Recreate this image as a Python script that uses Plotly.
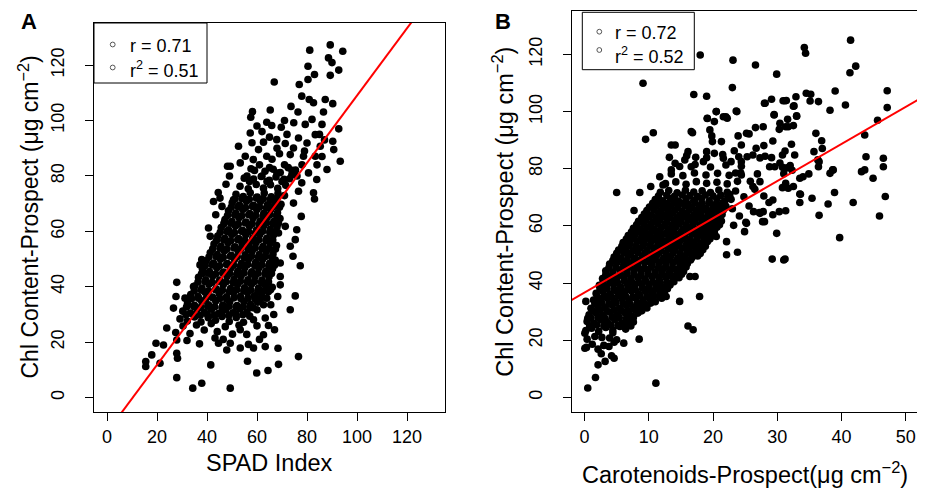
import plotly.graph_objects as go

W, H = 925, 488
OFF = 8  # the page body adds an 8 px margin around the figure

# ---------------- Panel A : SPAD index vs Chl content ----------------
spad_edge = [
    89.3, 81.1, 94.3, 88.6, 90.0, 80.4, 92.7, 83.0, 80.4, 89.3,
    66.9, 76.9, 77.9, 80.9, 82.6, 87.3, 90.3, 65.3, 58.2, 57.5,
    73.6, 76.4, 86.6, 63.9, 65.9, 74.7, 79.3, 82.0, 86.0, 92.7,
    57.3, 69.7, 76.6, 83.3, 80.0, 90.3, 52.6, 62.6, 67.9, 71.3,
    74.6, 85.3, 90.7, 73.3, 78.6, 83.3, 55.3, 60.6, 49.3, 53.3,
    58.5, 63.9, 93.3, 88.0, 80.6, 83.9, 82.6, 83.0, 77.9, 76.6,
    74.6, 77.7, 75.9, 75.3, 74.4, 77.3, 73.3, 68.6, 71.3, 69.3,
    69.3, 69.3, 68.3, 75.3, 73.3, 63.9, 62.6, 60.0, 63.3, 58.6,
    62.6, 63.3, 60.0, 55.9, 56.6, 53.3, 58.6, 56.2, 59.9, 64.4,
    68.6, 68.4, 76.6, 49.3, 37.9, 34.3, 27.9, 41.5, 37.0, 21.2,
    15.5, 15.5, 17.9, 19.6, 22.6, 23.9, 27.9, 27.9, 28.2, 27.9,
    27.6, 26.6, 31.2, 34.6, 37.2, 38.3, 42.6, 45.2, 48.2, 50.6,
    40.6, 41.3, 37.9, 44.6, 47.9, 49.3, 53.3,
]
chl_a_edge = [
    127.3, 125.4, 125.0, 122.6, 120.9, 119.6, 118.2, 116.6, 114.8, 116.3,
    113.9, 113.0, 108.8, 107.6, 106.4, 107.6, 106.1, 103.8, 103.2, 101.2,
    105.1, 103.1, 103.1, 99.4, 98.2, 99.2, 98.6, 100.4, 98.6, 97.0,
    95.5, 97.6, 93.7, 94.9, 91.9, 92.5, 90.7, 92.2, 93.1, 91.7,
    90.1, 90.7, 89.5, 87.7, 87.1, 87.1, 87.1, 89.5, 83.5, 84.7,
    85.9, 87.1, 85.3, 82.3, 81.1, 78.7, 73.9, 71.7, 77.5, 74.5,
    70.2, 65.4, 60.6, 57.0, 51.0, 47.6, 54.6, 59.4, 61.8, 48.6,
    43.7, 40.7, 36.5, 36.7, 31.7, 35.9, 33.5, 31.7, 28.7, 28.1,
    22.7, 18.4, 25.9, 22.8, 19.2, 17.9, 17.9, 13.1, 8.9, 9.8,
    12.0, 17.8, 14.8, 3.4, 5.2, 3.4, 7.2, 11.8, 19.4, 12.4,
    11.2, 13.0, 15.4, 19.6, 19.0, 25.1, 20.8, 16.0, 14.2, 41.6,
    36.5, 32.3, 35.9, 40.1, 47.9, 44.9, 70.8, 72.0, 83.5, 71.4,
    61.2, 58.2, 49.8, 19.6, 17.2, 19.6, 24.5,
]
spad_core = [
    27.5, 30.4, 33.2, 35.8, 38.9, 41.7, 44.1, 47.3, 50.2, 52.8, 32.0, 43.2, 46.5,
    29.2, 32.1, 35.0, 37.6, 40.5, 43.4, 46.0, 48.9, 51.7, 54.6, 57.1,
    30.3, 33.4, 36.1, 39.0, 41.8, 44.7, 47.5, 50.3, 53.2, 56.0, 58.4,
    32.2, 35.0, 37.9, 40.6, 43.5, 46.3, 49.1, 52.0, 54.8, 57.4, 60.2,
    33.5, 36.4, 39.3, 42.1, 44.9, 47.8, 50.6, 53.4, 56.2, 59.0, 61.8, 64.5,
    35.1, 38.0, 40.8, 43.7, 46.5, 49.4, 52.2, 55.0, 57.8, 60.6, 63.4, 66.1,
    36.6, 39.5, 42.3, 45.1, 48.0, 50.8, 53.6, 56.4, 59.2, 62.0, 64.8,
    38.2, 41.0, 43.9, 46.7, 49.5, 52.3, 55.1, 57.9, 60.7, 63.5, 66.2,
    39.7, 42.6, 45.4, 48.2, 51.0, 53.8, 56.6, 59.4, 62.2, 65.0, 67.3,
    41.3, 44.1, 46.9, 49.7, 52.5, 55.3, 58.1, 60.9, 63.7, 66.4,
    42.8, 45.6, 48.4, 51.2, 54.0, 56.8, 59.6, 62.4, 65.2, 67.8,
    44.3, 47.1, 49.9, 52.7, 55.5, 58.3, 61.1, 63.9, 66.6,
    45.7, 48.6, 51.4, 54.2, 57.0, 59.8, 62.6, 65.3, 68.0,
    47.2, 50.0, 52.8, 55.6, 58.4, 61.2, 64.0, 66.7, 69.2,
    48.6, 51.5, 54.3, 57.1, 59.9, 62.7, 65.5, 68.2,
    50.1, 53.0, 55.8, 58.6, 61.4, 64.2, 67.0, 69.6,
    51.6, 54.5, 57.3, 60.1, 62.9, 65.7, 68.4, 71.0,
    53.2, 56.5, 59.7, 62.6, 65.4, 68.3, 71.5,
    54.9, 58.6, 61.7, 64.9, 67.6, 70.8, 73.9,
    57.6, 63.2, 66.5, 69.3, 72.5, 75.4,
]
chl_a_core = [
    23.5, 25.8, 23.1, 26.2, 24.4, 26.7, 23.8, 25.6, 22.9, 26.1, 20.6, 21.5, 21.0,
    28.4, 27.6, 29.1, 27.3, 28.8, 27.9, 29.3, 27.5, 28.9, 27.2, 29.4,
    31.2, 30.5, 32.0, 30.8, 31.9, 30.4, 31.7, 30.6, 32.1, 30.9, 32.4,
    34.0, 33.3, 34.8, 33.5, 34.9, 33.4, 34.6, 33.2, 34.7, 33.6, 34.4,
    37.2, 36.5, 37.9, 36.3, 37.6, 36.4, 37.8, 36.6, 37.9, 36.7, 37.5, 38.2,
    40.3, 39.5, 40.9, 39.3, 40.7, 39.4, 40.8, 39.6, 40.9, 39.5, 40.6, 39.8,
    43.4, 42.5, 43.9, 42.4, 43.8, 42.6, 43.9, 42.5, 43.7, 42.4, 43.6,
    46.3, 45.5, 46.9, 45.3, 46.7, 45.6, 46.9, 45.4, 46.8, 45.6, 46.5,
    49.4, 48.6, 49.9, 48.4, 49.8, 48.5, 49.9, 48.7, 49.8, 48.5, 49.6,
    52.3, 51.6, 52.9, 51.4, 52.8, 51.5, 52.9, 51.6, 52.7, 51.8,
    55.4, 54.6, 55.9, 54.4, 55.8, 54.6, 55.9, 54.5, 55.7, 54.9,
    58.3, 57.5, 58.9, 57.4, 58.8, 57.6, 58.9, 57.5, 58.7,
    61.4, 60.6, 61.9, 60.4, 61.8, 60.5, 61.9, 60.7, 61.6,
    64.3, 63.5, 64.9, 63.4, 64.8, 63.6, 64.9, 63.5, 64.6,
    67.4, 66.6, 67.9, 66.4, 67.8, 66.5, 67.9, 66.7,
    70.3, 69.5, 70.9, 69.4, 70.8, 69.6, 70.9, 69.8,
    73.4, 72.6, 73.9, 72.4, 73.8, 72.5, 73.7, 72.9,
    76.3, 75.4, 76.9, 75.6, 76.8, 75.5, 76.6,
    79.2, 78.9, 79.8, 78.4, 79.6, 78.8, 80.3,
    82.6, 81.7, 82.4, 81.2, 83.0, 82.1,
]
spad_fill = [
    31.6, 34.5, 37.3, 40.1, 43.0, 45.8, 48.7, 51.5, 54.3,
    31.8, 34.7, 37.5, 40.3, 43.1, 46.0, 48.8, 51.6, 54.5, 57.3,
    33.8, 36.6, 39.5, 42.3, 45.1, 47.9, 50.8, 53.6, 56.4, 59.2, 61.5,
    34.9, 37.7, 40.6, 43.4, 46.2, 49.0, 51.9, 54.7, 57.5, 60.3, 63.1, 65.4,
    36.4, 39.2, 42.1, 44.9, 47.7, 50.5, 53.4, 56.2, 59.0, 61.8, 64.6,
    37.8, 40.6, 43.5, 46.3, 49.1, 51.9, 54.8, 57.6, 60.4, 63.2, 65.8,
    39.3, 42.1, 45.0, 47.8, 50.6, 53.4, 56.3, 59.1, 61.9, 64.7, 67.0,
    40.8, 43.7, 46.5, 49.3, 52.1, 55.0, 57.8, 60.6, 63.4, 66.0,
    42.3, 45.2, 48.0, 50.8, 53.6, 56.5, 59.3, 62.1, 64.9, 67.4,
    43.8, 46.7, 49.5, 52.3, 55.1, 58.0, 60.8, 63.6, 66.3,
    45.3, 48.1, 51.0, 53.8, 56.6, 59.4, 62.3, 65.1, 67.6,
    46.8, 49.6, 52.5, 55.3, 58.1, 60.9, 63.8, 66.5, 68.6,
    48.2, 51.1, 53.9, 56.7, 59.5, 62.4, 65.2, 67.8,
    49.7, 52.5, 55.4, 58.2, 61.0, 63.8, 66.7, 69.0,
    51.2, 54.0, 56.9, 59.7, 62.5, 65.3, 68.1,
]
chl_a_fill = [
    29.9, 30.0, 29.7, 30.1, 29.8, 30.0, 29.6, 30.2, 29.9,
    32.7, 32.9, 32.6, 33.0, 32.8, 32.5, 33.0, 32.7, 32.9, 32.6,
    35.7, 35.9, 35.6, 36.0, 35.8, 35.5, 36.0, 35.7, 35.9, 35.6, 35.8,
    38.6, 38.8, 38.5, 38.9, 38.7, 38.4, 38.9, 38.6, 38.8, 38.5, 38.7, 38.9,
    41.7, 41.9, 41.6, 42.0, 41.8, 41.5, 42.0, 41.7, 41.9, 41.6, 41.8,
    44.7, 44.9, 44.6, 45.0, 44.8, 44.5, 45.0, 44.7, 44.9, 44.6, 44.8,
    47.7, 47.9, 47.6, 48.0, 47.8, 47.5, 48.0, 47.7, 47.9, 47.6, 47.8,
    50.7, 50.9, 50.6, 51.0, 50.8, 50.5, 51.0, 50.7, 50.9, 50.6,
    53.7, 53.9, 53.6, 54.0, 53.8, 53.5, 54.0, 53.7, 53.9, 53.6,
    56.7, 56.9, 56.6, 57.0, 56.8, 56.5, 57.0, 56.7, 56.9,
    59.7, 59.9, 59.6, 60.0, 59.8, 59.5, 60.0, 59.7, 59.9,
    62.7, 62.9, 62.6, 63.0, 62.8, 62.5, 63.0, 62.7, 62.9,
    65.7, 65.9, 65.6, 66.0, 65.8, 65.5, 66.0, 65.7,
    68.7, 68.9, 68.6, 69.0, 68.8, 68.5, 69.0, 68.7,
    71.7, 71.9, 71.6, 72.0, 71.8, 71.5, 72.0,
]
spad_extra = [
    56.0, 59.0, 62.0, 65.0, 68.0, 71.0, 74.0, 66.0, 69.0, 61.0,
    57.0, 64.0, 70.0, 73.0, 76.0, 58.0, 65.0, 72.0, 62.0, 68.0,
    78.0, 79.0, 85.0, 87.0, 71.0, 60.0, 84.0, 86.0, 43.5, 46.0,
    44.5, 47.6, 49.0, 46.9, 65.5, 66.7, 64.6, 61.0, 67.0,
]
chl_a_extra = [
    80.0, 82.0, 80.0, 83.0, 81.0, 84.0, 82.0, 86.0, 88.0, 84.0,
    78.0, 78.0, 78.0, 79.0, 80.0, 92.0, 94.0, 95.0, 96.0, 90.0,
    84.0, 89.0, 95.0, 93.0, 100.0, 98.0, 84.0, 87.0, 66.0, 69.0,
    74.0, 77.0, 80.0, 63.2, 33.5, 30.0, 26.0, 21.0, 24.5,
]

# ---------------- Panel B : Carotenoids vs Chl content ----------------
car_edge = [
    41.4, 34.2, 34.4, 18.0, 23.1, 26.6, 42.2, 41.3, 29.9, 9.1,
    23.0, 47.1, 39.0, 17.0, 19.0, 34.5, 35.2, 32.9, 29.1, 31.2,
    36.4, 28.0, 32.5, 40.6, 47.1, 38.2, 20.5, 23.6, 10.7, 9.5,
    16.8, 19.1, 22.0, 29.5, 30.4, 31.7, 33.0, 45.6, 36.0, 43.6,
    36.9, 37.0, 35.7, 34.0, 36.5, 36.4, 38.2, 38.7, 43.1, 43.6,
    43.8, 44.9, 46.5, 46.5, 46.8, 45.9, 41.8, 38.9, 37.9, 35.4,
    36.5, 33.5, 39.7, 31.0, 29.2, 23.8, 22.1, 22.1, 20.5, 17.9,
    16.1, 16.9, 11.1, 1.7, 0.5, 5.0, 8.6, 7.7, 8.5, 6.1,
    4.6, 3.8, 3.2, 4.2, 4.6, 0.05, 0.05, 0.2, 0.5, 2.1,
    2.6, 11.6, 12.0, 12.7, 14.8, 16.4, 17.2, 15.4, 26.2, 27.3,
    25.2, 28.0, 29.3, 29.9,
]
chl_b_edge = [
    125.0, 122.4, 120.4, 119.8, 118.0, 116.3, 115.9, 113.6, 113.1, 109.9,
    108.4, 107.3, 107.2, 106.0, 105.4, 106.4, 106.1, 105.2, 104.3, 103.8,
    103.5, 102.9, 101.9, 102.3, 101.4, 100.5, 100.0, 100.2, 92.6, 90.3,
    92.6, 97.6, 98.2, 98.8, 95.9, 94.7, 98.4, 97.0, 92.4, 91.8,
    89.8, 87.1, 86.0, 77.2, 82.5, 80.7, 78.4, 79.6, 79.0, 79.6,
    84.2, 76.7, 83.7, 80.7, 70.3, 63.5, 68.2, 71.7, 67.7, 69.7,
    63.7, 71.2, 55.9, 48.1, 48.4, 50.8, 49.9, 54.5, 56.3, 35.3,
    25.0, 23.7, 5.0, 7.0, 3.3, 71.7, 71.7, 65.4, 20.4, 19.0,
    19.3, 17.8, 12.6, 14.6, 13.7, 17.2, 22.5, 33.6, 27.7, 11.4,
    15.3, 38.8, 34.7, 35.3, 33.6, 42.3, 42.3, 48.1, 73.8, 64.4,
    60.9, 61.5, 69.1, 57.4,
]
car_scatter = [
    28.1, 30.9, 31.4, 32.6, 29.5, 33.0, 31.6, 31.3, 32.5, 30.3,
    26.6, 27.8, 25.2, 29.3, 27.9, 26.7, 31.2, 32.7, 30.8, 26.2,
    25.3, 27.3, 28.1, 29.1, 29.6, 28.8, 30.4, 30.8, 31.5, 32.0,
    31.0, 32.3, 36.3, 38.6, 34.9, 33.5, 32.5, 31.3, 31.7, 30.8,
    33.6, 33.5, 31.3, 30.3, 29.3, 27.8, 27.2, 26.3, 27.9, 28.7,
    27.7, 25.1, 26.9, 27.3, 24.4, 31.2, 32.2, 35.1,
]
chl_b_scatter = [
    102.9, 103.8, 103.9, 102.0, 99.0, 98.5, 97.3, 94.7, 95.1, 93.8,
    94.4, 94.7, 92.4, 89.7, 88.1, 87.2, 86.2, 84.8, 84.8, 84.8,
    84.2, 83.8, 84.4, 83.9, 80.7, 80.7, 82.0, 80.5, 80.3, 81.1,
    78.3, 79.5, 83.1, 79.6, 78.2, 76.7, 73.8, 74.9, 73.2, 73.4,
    71.1, 68.2, 65.3, 65.0, 63.9, 65.0, 64.7, 65.0, 70.5, 68.2,
    61.5, 61.3, 78.2, 75.5, 77.8, 48.4, 88.6, 103.7,
]
car_extra = [
    20.5, 22.2, 23.7, 19.1, 20.2, 21.6, 19.5, 19.8, 19.9, 21.3,
    23.9, 25.6, 24.4, 23.3, 21.6, 20.2, 19.0, 14.1, 13.5, 16.1,
    17.3, 18.5, 22.8, 24.4, 16.6, 11.7, 13.5, 12.2, 10.3, 14.1,
    15.6, 16.6, 24.8, 25.6, 24.1, 23.2, 24.9, 26.5, 25.8, 23.0,
    22.6, 23.5,
]
chl_b_extra = [
    100.0, 97.7, 100.0, 97.7, 96.5, 98.2, 93.6, 91.5, 89.5, 89.5,
    91.5, 92.2, 88.3, 86.3, 83.7, 85.4, 86.0, 88.3, 88.3, 86.0,
    84.0, 82.5, 82.5, 82.5, 93.0, 77.2, 79.6, 74.3, 73.8, 81.9,
    83.1, 80.7, 70.2, 67.0, 63.5, 60.2, 58.0, 72.8, 75.6, 66.0,
    71.0, 78.5,
]
car_core = [
    0.3, 1.2, 2.1, 3.0, 1.6, 0.4, 2.7, 3.9, 5.0, 4.4,
    0.2, 1.1, 2.2, 3.3, 4.4, 5.5, 6.4,
    0.4, 1.5, 2.6, 3.6, 4.7, 5.8, 6.9, 7.6,
    0.7, 1.8, 2.9, 4.0, 5.1, 6.2, 7.3, 8.3,
    1.0, 2.1, 3.2, 4.3, 5.4, 6.5, 7.6, 8.7, 9.7,
    1.4, 2.5, 3.6, 4.7, 5.8, 6.9, 8.0, 9.1, 10.2, 11.0,
    1.8, 2.9, 4.0, 5.1, 6.2, 7.3, 8.4, 9.5, 10.6, 11.7, 12.4,
    2.3, 3.4, 4.5, 5.6, 6.7, 7.8, 8.9, 10.0, 11.1, 12.2, 13.3,
    2.8, 3.9, 5.0, 6.1, 7.2, 8.3, 9.4, 10.5, 11.6, 12.7, 13.8, 14.7,
    3.3, 4.4, 5.5, 6.6, 7.7, 8.8, 9.9, 11.0, 12.1, 13.2, 14.3, 15.4,
    3.9, 5.0, 6.1, 7.2, 8.3, 9.4, 10.5, 11.6, 12.7, 13.8, 14.9, 16.0,
    4.6, 5.7, 6.8, 7.9, 9.0, 10.1, 11.2, 12.3, 13.4, 14.5, 15.6, 16.7, 17.6,
    5.3, 6.4, 7.5, 8.6, 9.7, 10.8, 11.9, 13.0, 14.1, 15.2, 16.3, 17.4, 18.4,
    6.0, 7.1, 8.2, 9.3, 10.4, 11.5, 12.6, 13.7, 14.8, 15.9, 17.0, 18.1, 19.1,
    6.8, 7.9, 9.0, 10.1, 11.2, 12.3, 13.4, 14.5, 15.6, 16.7, 17.8, 18.9, 19.8,
    7.6, 8.7, 9.8, 10.9, 12.0, 13.1, 14.2, 15.3, 16.4, 17.5, 18.6, 19.7, 20.6,
    8.4, 9.5, 10.6, 11.7, 12.8, 13.9, 15.0, 16.1, 17.2, 18.3, 19.4, 20.5, 21.3,
    9.3, 10.4, 11.5, 12.6, 13.7, 14.8, 15.9, 17.0, 18.1, 19.2, 20.3, 21.4,
    10.1, 11.2, 12.3, 13.4, 14.5, 15.6, 16.7, 17.8, 18.9, 20.0, 21.1, 22.0,
    11.0, 12.2, 13.4, 14.6, 15.8, 17.0, 18.2, 19.4, 20.6, 21.8, 22.8,
    11.8, 13.1, 14.4, 15.7, 17.0, 18.3, 19.6, 20.9, 22.2, 23.5,
    12.6, 14.2, 15.8, 17.4, 19.0, 20.6, 22.2, 23.8,
    13.5, 15.3, 17.1, 18.9, 20.7, 22.5, 24.3,
    14.8, 17.2, 19.6, 22.0, 24.4,
    15.9, 19.0, 21.5, 24.0, 13.2,
]
chl_b_core = [
    17.5, 18.6, 16.9, 18.2, 21.3, 20.4, 21.0, 20.8, 20.2, 22.6,
    23.4, 24.2, 23.1, 24.5, 23.6, 24.8, 23.9,
    26.6, 25.9, 27.1, 26.2, 27.3, 26.0, 27.0, 26.4,
    28.9, 29.6, 28.7, 29.8, 28.8, 29.7, 28.6, 29.5,
    31.2, 32.0, 31.4, 32.3, 31.1, 32.2, 31.5, 32.1, 31.3,
    34.1, 33.7, 34.6, 33.8, 34.5, 33.6, 34.7, 33.9, 34.4, 33.5,
    36.4, 37.1, 36.2, 37.0, 36.6, 37.2, 36.3, 37.1, 36.5, 37.0, 36.8,
    39.2, 38.8, 39.6, 38.7, 39.5, 38.9, 39.7, 38.8, 39.4, 38.7, 39.3,
    41.6, 42.1, 41.4, 42.2, 41.5, 42.0, 41.3, 42.2, 41.6, 42.0, 41.4, 41.9,
    44.3, 43.9, 44.6, 43.8, 44.5, 44.0, 44.7, 43.9, 44.4, 43.8, 44.6, 44.1,
    46.7, 47.1, 46.4, 47.0, 46.5, 47.2, 46.6, 47.0, 46.4, 47.1, 46.6, 46.9,
    49.1, 48.8, 49.6, 48.7, 49.5, 48.9, 49.7, 48.8, 49.4, 48.7, 49.3, 48.9, 49.5,
    51.6, 52.0, 51.3, 52.2, 51.5, 52.1, 51.4, 52.0, 51.6, 52.2, 51.3, 51.9, 51.7,
    54.2, 53.8, 54.6, 53.9, 54.5, 53.7, 54.4, 53.9, 54.6, 53.8, 54.3, 54.0, 54.5,
    56.6, 57.1, 56.4, 57.0, 56.5, 57.2, 56.6, 57.0, 56.3, 57.1, 56.7, 56.9, 56.5,
    59.2, 58.8, 59.6, 58.7, 59.5, 58.9, 59.7, 58.8, 59.4, 58.7, 59.3, 58.9, 59.5,
    61.6, 62.0, 61.3, 62.2, 61.5, 62.1, 61.4, 62.0, 61.6, 62.2, 61.3, 61.9, 61.7,
    64.2, 63.8, 64.6, 63.9, 64.5, 63.7, 64.4, 63.9, 64.6, 63.8, 64.3, 64.0,
    66.6, 67.1, 66.4, 67.0, 66.5, 67.2, 66.6, 67.0, 66.3, 67.1, 66.7, 66.9,
    69.2, 68.8, 69.6, 68.7, 69.5, 68.9, 69.7, 68.8, 69.4, 68.7, 69.3,
    71.8, 72.4, 71.6, 72.5, 71.9, 72.3, 71.7, 72.6, 71.8, 72.2,
    74.8, 75.4, 74.6, 75.5, 74.9, 75.3, 74.7, 75.6,
    78.2, 77.6, 78.5, 77.8, 78.4, 77.7, 78.6,
    80.8, 81.5, 80.6, 81.3, 80.9,
    84.6, 83.9, 85.0, 84.2, 84.0,
]
car_fill = [
    0.8, 1.9, 3.0, 4.1, 5.2, 6.3, 7.2,
    1.0, 2.1, 3.2, 4.3, 5.4, 6.5, 7.6,
    1.3, 2.4, 3.5, 4.6, 5.7, 6.8, 7.9, 8.9,
    1.6, 2.7, 3.8, 4.9, 6.0, 7.1, 8.2, 9.3, 10.3,
    2.0, 3.1, 4.2, 5.3, 6.4, 7.5, 8.6, 9.7, 10.8, 11.7,
    2.4, 3.5, 4.6, 5.7, 6.8, 7.9, 9.0, 10.1, 11.2, 12.3, 12.9,
    2.9, 4.0, 5.1, 6.2, 7.3, 8.4, 9.5, 10.6, 11.7, 12.8, 13.9,
    3.3, 4.4, 5.5, 6.6, 7.7, 8.8, 9.9, 11.0, 12.1, 13.2, 14.3, 15.1,
    3.8, 4.9, 6.0, 7.1, 8.2, 9.3, 10.4, 11.5, 12.6, 13.7, 14.8, 15.8,
    4.4, 5.5, 6.6, 7.7, 8.8, 9.9, 11.0, 12.1, 13.2, 14.3, 15.4, 16.5,
    5.0, 6.1, 7.2, 8.3, 9.4, 10.5, 11.6, 12.7, 13.8, 14.9, 16.0, 17.1, 18.0,
    5.8, 6.9, 8.0, 9.1, 10.2, 11.3, 12.4, 13.5, 14.6, 15.7, 16.8, 17.9, 18.8,
    6.5, 7.6, 8.7, 9.8, 10.9, 12.0, 13.1, 14.2, 15.3, 16.4, 17.5, 18.6, 19.5,
    7.3, 8.4, 9.5, 10.6, 11.7, 12.8, 13.9, 15.0, 16.1, 17.2, 18.3, 19.4, 20.2,
    8.1, 9.2, 10.3, 11.4, 12.5, 13.6, 14.7, 15.8, 16.9, 18.0, 19.1, 20.2, 21.0,
    8.9, 10.0, 11.1, 12.2, 13.3, 14.4, 15.5, 16.6, 17.7, 18.8, 19.9, 20.9,
    9.7, 10.8, 11.9, 13.0, 14.1, 15.2, 16.3, 17.4, 18.5, 19.6, 20.7, 21.6,
    10.6, 11.7, 12.8, 13.9, 15.0, 16.1, 17.2, 18.3, 19.4, 20.5, 21.5,
    11.5, 12.8, 14.0, 15.2, 16.4, 17.6, 18.8, 20.0, 21.2, 22.3,
]
chl_b_fill = [
    25.1, 25.4, 25.0, 25.3, 25.2, 25.5, 25.0,
    27.8, 28.0, 27.7, 28.1, 27.9, 27.6, 28.0,
    30.3, 30.5, 30.2, 30.6, 30.4, 30.1, 30.6, 30.3,
    32.8, 33.0, 32.7, 33.1, 32.9, 32.6, 33.1, 32.8, 33.0,
    35.3, 35.5, 35.2, 35.6, 35.4, 35.1, 35.6, 35.3, 35.5, 35.2,
    37.9, 38.1, 37.8, 38.2, 38.0, 37.7, 38.2, 37.9, 38.1, 37.8, 38.0,
    40.4, 40.6, 40.3, 40.7, 40.5, 40.2, 40.7, 40.4, 40.6, 40.3, 40.5,
    42.9, 43.1, 42.8, 43.2, 43.0, 42.7, 43.2, 42.9, 43.1, 42.8, 43.0, 43.1,
    45.4, 45.6, 45.3, 45.7, 45.5, 45.2, 45.7, 45.4, 45.6, 45.3, 45.5, 45.6,
    47.9, 48.1, 47.8, 48.2, 48.0, 47.7, 48.2, 47.9, 48.1, 47.8, 48.0, 48.1,
    50.4, 50.6, 50.3, 50.7, 50.5, 50.2, 50.7, 50.4, 50.6, 50.3, 50.5, 50.6, 50.4,
    52.9, 53.1, 52.8, 53.2, 53.0, 52.7, 53.2, 52.9, 53.1, 52.8, 53.0, 53.1, 52.9,
    55.4, 55.6, 55.3, 55.7, 55.5, 55.2, 55.7, 55.4, 55.6, 55.3, 55.5, 55.6, 55.4,
    57.9, 58.1, 57.8, 58.2, 58.0, 57.7, 58.2, 57.9, 58.1, 57.8, 58.0, 58.1, 57.9,
    60.4, 60.6, 60.3, 60.7, 60.5, 60.2, 60.7, 60.4, 60.6, 60.3, 60.5, 60.6, 60.4,
    62.9, 63.1, 62.8, 63.2, 63.0, 62.7, 63.2, 62.9, 63.1, 62.8, 63.0, 63.1,
    65.4, 65.6, 65.3, 65.7, 65.5, 65.2, 65.7, 65.4, 65.6, 65.3, 65.5, 65.6,
    67.9, 68.1, 67.8, 68.2, 68.0, 67.7, 68.2, 67.9, 68.1, 67.8, 68.0,
    70.5, 70.7, 70.4, 70.8, 70.6, 70.3, 70.8, 70.5, 70.7, 70.4,
]

# regression lines (intercept, slope) and statistics
fit_a = [-12.5, 1.215]
fit_b = [36.7, 1.3]
stats_a = ["r = 0.71", "r<sup>2</sup> = 0.51"]
stats_b = ["r = 0.72", "r<sup>2</sup> = 0.52"]
ticks_a_x = [0, 20, 40, 60, 80, 100, 120]
ticks_b_x = [0, 10, 20, 30, 40, 50]
ticks_y = [0, 20, 40, 60, 80, 100, 120]

pairs = [(spad_edge, chl_a_edge), (spad_core, chl_a_core), (spad_fill, chl_a_fill),
         (spad_extra, chl_a_extra), (car_edge, chl_b_edge), (car_scatter, chl_b_scatter),
         (car_extra, chl_b_extra), (car_core, chl_b_core), (car_fill, chl_b_fill)]
for a, b in pairs:
    assert len(a) == len(b), (len(a), len(b))

FONT = "Liberation Sans, Arial, sans-serif"


def px(x):
    return (x - OFF) / W


def py(y):
    return 1 - (y - OFF) / H


spad = spad_edge + spad_core + spad_fill + spad_extra
chl_a = chl_a_edge + chl_a_core + chl_a_fill + chl_a_extra
car = car_edge + car_scatter + car_extra + car_core + car_fill
chl_b = chl_b_edge + chl_b_scatter + chl_b_extra + chl_b_core + chl_b_fill

fig = go.Figure()
mk = dict(color="black", size=7.6, line=dict(width=0))
fig.add_trace(go.Scatter(x=spad, y=chl_a, mode="markers", marker=mk, xaxis="x", yaxis="y", hoverinfo="skip"))
fig.add_trace(go.Scatter(x=car, y=chl_b, mode="markers", marker=mk, xaxis="x2", yaxis="y2", hoverinfo="skip"))

lx_a = [-10, 140]
fig.add_trace(go.Scatter(x=lx_a, y=[fit_a[0] + fit_a[1] * v for v in lx_a], mode="lines",
                         line=dict(color="red", width=2), xaxis="x", yaxis="y", hoverinfo="skip"))
lx_b = [-5, 60]
fig.add_trace(go.Scatter(x=lx_b, y=[fit_b[0] + fit_b[1] * v for v in lx_b], mode="lines",
                         line=dict(color="red", width=2), xaxis="x2", yaxis="y2", hoverinfo="skip"))

axis_common = dict(showline=True, mirror=True, linecolor="black", linewidth=1,
                   ticks="outside", ticklen=8, tickwidth=1, tickcolor="black",
                   showgrid=False, zeroline=False,
                   tickfont=dict(family=FONT, size=18, color="black"))

fig.update_layout(
    width=W, height=H, margin=dict(l=0, r=0, t=0, b=0),
    paper_bgcolor="white", plot_bgcolor="white", showlegend=False,
    xaxis=dict(domain=[px(94), px(445)], range=[-5.2, 135.2], tickvals=ticks_a_x, anchor="y", **axis_common),
    yaxis=dict(domain=[py(412), py(23)], range=[-5.2, 135.2], tickvals=ticks_y, anchor="x",
               tickangle=-90, ticklabelstandoff=14, **axis_common),
    xaxis2=dict(domain=[px(571.7), px(918.7)], range=[-2, 52], tickvals=ticks_b_x, anchor="y2", **axis_common),
    yaxis2=dict(domain=[py(412.3), py(11)], range=[-5.2, 135.2], tickvals=ticks_y, anchor="x2",
                tickangle=-90, ticklabelstandoff=14, **axis_common),
)

ann = []
shapes = []


def text(x, y, s, size, **kw):
    d = dict(x=px(x), y=py(y), xref="paper", yref="paper", text=s, showarrow=False,
             font=dict(family=FONT, size=size, color="black"), xanchor="center", yanchor="middle")
    d.update(kw)
    ann.append(d)


# panel labels
text(28.5, 21, "<b>A</b>", 22)
text(503.5, 21, "<b>B</b>", 22)

# axis titles
text(269.5, 463, "SPAD Index", 23.5)
text(745.2, 473, "Carotenoids-Prospect(μg cm<sup>−2</sup>)", 23.5)
text(28, 217.5, "Chl Content-Prospect (μg cm<sup>−2</sup>)", 23, textangle=-90)
text(503, 211.7, "Chl Content-Prospect (μg cm<sup>−2</sup>)", 23.5, textangle=-90)

# legends
legends = [
    dict(box=(94, 23, 207, 83), cx=112.7, cys=(44.5, 67.5), tx=127.7, tys=(45.8, 69.2), labels=stats_a),
    dict(box=(582.3, 12.3, 694.3, 69.7), cx=599.3, cys=(31.7, 50.0), tx=613.3, tys=(32.5, 55.5), labels=stats_b),
]
for lg in legends:
    x0, y0, x1, y1 = lg["box"]
    shapes.append(dict(type="rect", xref="paper", yref="paper", x0=px(x0), x1=px(x1), y0=py(y1), y1=py(y0),
                       line=dict(color="black", width=1), fillcolor="white", layer="above"))
    for cy in lg["cys"]:
        r = 2.4
        shapes.append(dict(type="circle", xref="paper", yref="paper",
                           x0=px(lg["cx"] - r), x1=px(lg["cx"] + r), y0=py(cy + r), y1=py(cy - r),
                           line=dict(color="#555555", width=1), layer="above"))
    for ty, lab in zip(lg["tys"], lg["labels"]):
        text(lg["tx"], ty, lab, 18, xanchor="left")

fig.update_layout(annotations=ann, shapes=shapes)
fig.write_html("out.html")
